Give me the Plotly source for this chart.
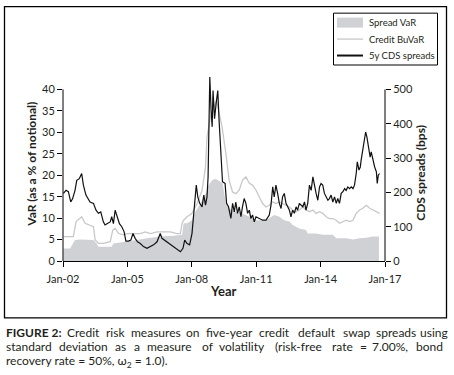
import pandas as pd
import plotly.graph_objects as go

# ---- data (decimal years) ----
cds_year = [2002.02, 2002.14, 2002.25, 2002.36, 2002.45, 2002.56, 2002.64, 2002.76, 2002.87, 2002.95,
            2003.07, 2003.18, 2003.26, 2003.42, 2003.54, 2003.65, 2003.76, 2003.88, 2003.96, 2004.07,
            2004.20, 2004.27, 2004.35, 2004.43, 2004.54, 2004.63, 2004.74, 2004.85, 2004.93, 2005.05,
            2005.16, 2005.26, 2005.36, 2005.47, 2005.60, 2005.75, 2005.91, 2006.07, 2006.22, 2006.38,
            2006.53, 2006.61, 2006.72, 2006.84, 2007.00, 2007.16, 2007.31, 2007.47, 2007.59, 2007.67,
            2007.78, 2007.90, 2008.01, 2008.12, 2008.21, 2008.28, 2008.37, 2008.48, 2008.56, 2008.64,
            2008.71, 2008.76, 2008.84, 2008.90, 2008.95, 2008.99, 2009.06, 2009.13, 2009.21, 2009.27,
            2009.34, 2009.43, 2009.55, 2009.62, 2009.71, 2009.82, 2009.90, 2009.98, 2010.05, 2010.13,
            2010.21, 2010.29, 2010.36, 2010.44, 2010.52, 2010.60, 2010.68, 2010.75, 2010.83, 2010.91,
            2010.99, 2011.14, 2011.30, 2011.46, 2011.61, 2011.69, 2011.77, 2011.84, 2011.92, 2012.00,
            2012.08, 2012.16, 2012.23, 2012.31, 2012.39, 2012.47, 2012.55, 2012.62, 2012.70, 2012.78,
            2012.86, 2012.93, 2013.01, 2013.17, 2013.25, 2013.32, 2013.40, 2013.48, 2013.56, 2013.64,
            2013.71, 2013.79, 2013.87, 2013.95, 2014.02, 2014.10, 2014.18, 2014.26, 2014.34, 2014.41,
            2014.49, 2014.57, 2014.65, 2014.73, 2014.80, 2014.88, 2014.96, 2015.04, 2015.12, 2015.19,
            2015.27, 2015.35, 2015.43, 2015.51, 2015.58, 2015.66, 2015.71, 2015.79, 2015.85, 2015.89,
            2015.97, 2016.05, 2016.10, 2016.16, 2016.24, 2016.31, 2016.36, 2016.44, 2016.52, 2016.60,
            2016.64, 2016.69, 2016.75]
cds_bps = [197, 206, 202, 172, 182, 206, 235, 240, 255, 221,
           192, 182, 172, 168, 148, 139, 143, 114, 105, 109,
           114, 129, 109, 148, 129, 109, 100, 85, 58, 58,
           61, 80, 66, 56, 51, 42, 37, 42, 47, 56,
           80, 66, 61, 56, 47, 42, 34, 27, 37, 61,
           51, 47, 80, 168, 221, 187, 168, 158, 192, 163,
           187, 245, 536, 439, 391, 497, 415, 458, 497, 410,
           332, 231, 226, 168, 158, 124, 168, 143, 172, 139,
           158, 129, 158, 182, 168, 139, 148, 124, 134, 114,
           129, 124, 119, 119, 134, 163, 216, 187, 221, 197,
           168, 153, 187, 197, 168, 158, 148, 129, 148, 139,
           158, 148, 168, 158, 172, 148, 168, 221, 206, 245,
           216, 197, 177, 216, 226, 221, 197, 187, 177, 182,
           192, 172, 187, 168, 182, 168, 197, 202, 211, 206,
           216, 211, 216, 211, 221, 255, 289, 265, 274, 294,
           328, 361, 376, 361, 332, 303, 318, 294, 274, 260,
           226, 250, 255]

buvar_year = [2002.02, 2002.48, 2002.61, 2002.76, 2002.87, 2003.03, 2003.26, 2003.42, 2003.50, 2003.65,
              2003.88, 2004.20, 2004.32, 2004.43, 2004.59, 2004.82, 2004.98, 2005.29, 2005.60, 2005.83,
              2006.07, 2006.38, 2006.69, 2007.00, 2007.31, 2007.47, 2007.55, 2007.62, 2007.78, 2008.01,
              2008.25, 2008.48, 2008.64, 2008.71, 2008.87, 2009.02, 2009.15, 2009.31, 2009.41, 2009.59,
              2009.74, 2009.90, 2010.05, 2010.21, 2010.36, 2010.52, 2010.68, 2010.83, 2010.99, 2011.14,
              2011.30, 2011.46, 2011.61, 2011.77, 2011.92, 2012.08, 2012.23, 2012.39, 2012.55, 2012.70,
              2012.86, 2013.01, 2013.17, 2013.32, 2013.48, 2013.64, 2013.79, 2013.95, 2014.10, 2014.26,
              2014.41, 2014.57, 2014.73, 2014.88, 2015.04, 2015.19, 2015.35, 2015.51, 2015.66, 2015.82,
              2015.97, 2016.13, 2016.29, 2016.44, 2016.60, 2016.75]
buvar_pct = [5.7, 5.7, 9.2, 9.9, 10.3, 8.8, 8.4, 8.0, 4.9, 4.1,
             4.1, 4.5, 7.2, 7.6, 6.4, 6.1, 6.4, 6.4, 6.4, 6.8,
             6.4, 6.8, 6.8, 6.8, 6.4, 6.4, 8.8, 9.5, 10.3, 11.1,
             13.4, 16.5, 21.9, 28.9, 33.6, 35.9, 37.4, 33.6, 31.2, 25.0,
             18.8, 16.1, 15.7, 16.5, 18.8, 19.6, 18.1, 17.7, 16.5, 15.0,
             13.4, 12.6, 13.0, 13.8, 13.4, 13.8, 13.4, 13.0, 12.6, 11.9,
             11.5, 11.9, 12.6, 11.9, 11.5, 11.9, 11.1, 11.5, 11.1, 10.3,
             9.9, 9.9, 9.5, 8.8, 9.2, 9.5, 9.2, 9.5, 11.1, 11.9,
             12.3, 13.0, 12.3, 11.9, 11.5, 11.1]

spread_year = [2002.02, 2002.33, 2002.56, 2002.79, 2003.42, 2003.57, 2003.65, 2004.27, 2004.35, 2004.98,
               2005.44, 2005.91, 2006.53, 2007.16, 2007.55, 2007.62, 2007.78, 2008.01, 2008.17, 2008.40,
               2008.64, 2008.79, 2008.95, 2009.10, 2009.26, 2009.43, 2009.59, 2009.74, 2010.05, 2010.36,
               2010.68, 2010.99, 2011.46, 2011.69, 2011.84, 2012.08, 2012.31, 2012.55, 2012.70, 2013.01,
               2013.32, 2013.40, 2013.79, 2014.10, 2014.57, 2014.73, 2015.19, 2015.51, 2015.82, 2016.13,
               2016.44, 2016.72]
spread_pct = [2.9, 2.9, 4.9, 5.0, 4.9, 4.1, 3.3, 3.3, 4.1, 4.5,
              4.9, 5.3, 5.7, 5.9, 6.1, 8.8, 8.8, 9.5, 11.5, 13.4,
              15.7, 17.7, 18.8, 19.2, 18.8, 18.2, 13.4, 12.3, 11.5, 11.1,
              10.3, 9.5, 9.5, 10.3, 10.7, 10.3, 9.5, 9.2, 8.4, 7.6,
              7.2, 6.4, 6.4, 6.1, 6.1, 5.3, 5.3, 5.0, 5.3, 5.4,
              5.7, 5.7]

series_names = ["Spread VaR", "Credit BuVaR", "5y CDS spreads"]
x_ticks = ["Jan-02", "Jan-05", "Jan-08", "Jan-11", "Jan-14", "Jan-17"]
y_ticks = [0, 5, 10, 15, 20, 25, 30, 35, 40]
y2_ticks = [0, 100, 200, 300, 400, 500]


def to_date(years):
    s = pd.Series(years)
    base = pd.to_datetime(s.astype(int).astype(str) + "-01-01")
    return base + pd.to_timedelta((s - s.astype(int)) * 365.25, unit="D")


tick_dates = [pd.Timestamp(2000 + int(t[-2:]), 1, 1) for t in x_ticks]

# page geometry (pixels)
W, H = 454, 375
L, R, T, B = 63, 385, 67.5, 261


def px(x):
    return (x - L) / (R - L)


def py(y):
    return (B - y) / (B - T)


FONT = "Lato, Carlito, 'Open Sans', sans-serif"
INK = "#231f20"
AREA = "#d0d1d5"
BUVAR = "#c8c8c8"
CDS = "#111111"

fig = go.Figure()
fig.add_trace(go.Scatter(x=to_date(spread_year), y=spread_pct, name=series_names[0],
                         mode="lines", line=dict(width=0, color=AREA),
                         fill="tozeroy", fillcolor=AREA))
fig.add_trace(go.Scatter(x=to_date(buvar_year), y=buvar_pct, name=series_names[1],
                         mode="lines", line=dict(width=1.3, color=BUVAR)))
fig.add_trace(go.Scatter(x=to_date(cds_year), y=cds_bps, name=series_names[2],
                         mode="lines", line=dict(width=1.2, color=CDS), yaxis="y2"))

fig.update_layout(
    width=W, height=H,
    margin=dict(l=L, r=W - R, t=T, b=H - B),
    paper_bgcolor="white", plot_bgcolor="white",
    font=dict(family=FONT, size=11, color=INK),
    showlegend=False,
    xaxis=dict(range=[tick_dates[0], tick_dates[-1]], tickvals=tick_dates, ticktext=x_ticks,
               showgrid=False, zeroline=False, showline=True, linecolor="black", linewidth=1,
               ticks="outside", ticklen=5, tickcolor="black", ticklabelstandoff=3),
    yaxis=dict(range=[0, 45], tickvals=y_ticks, showgrid=False, zeroline=False,
               showline=False, ticks="outside", ticklen=5, tickcolor="black"),
    yaxis2=dict(range=[0, 562.5], tickvals=y2_ticks, overlaying="y", side="right",
                showgrid=False, zeroline=False, showline=False,
                ticks="outside", ticklen=5, tickcolor="black"),
)

# axis lines that stop at the last tick, outer frame
fig.add_shape(type="line", xref="paper", yref="y", x0=0, x1=0, y0=0, y1=40,
              line=dict(color="black", width=1))
fig.add_shape(type="line", xref="paper", yref="y2", x0=1, x1=1, y0=0, y1=500,
              line=dict(color="black", width=1))
fig.add_shape(type="rect", xref="paper", yref="paper", x0=px(4.5), x1=px(446.5),
              y0=py(318), y1=py(6), line=dict(color="black", width=1.3))

# legend box drawn by hand to match its compact spacing
fig.add_shape(type="rect", xref="paper", yref="paper", x0=px(333.5), x1=px(437.5),
              y0=py(64.5), y1=py(12.5), line=dict(color="black", width=1), fillcolor="white")
fig.add_shape(type="rect", xref="paper", yref="paper", x0=px(337), x1=px(363),
              y0=py(27), y1=py(17), line=dict(width=0), fillcolor=AREA)
fig.add_shape(type="line", xref="paper", yref="paper", x0=px(337), x1=px(363),
              y0=py(38.5), y1=py(38.5), line=dict(color=BUVAR, width=1.3))
fig.add_shape(type="line", xref="paper", yref="paper", x0=px(337), x1=px(363),
              y0=py(55), y1=py(55), line=dict(color=CDS, width=2))
for name, yy in zip(series_names, [22, 38.5, 55]):
    fig.add_annotation(text=name, xref="paper", yref="paper", x=px(367), y=py(yy),
                       xanchor="left", yanchor="middle", showarrow=False,
                       font=dict(size=9.5, color=INK))

# axis titles
fig.add_annotation(text="<b>VaR (as a % of notional)</b>", textangle=-90, xref="paper", yref="paper",
                   x=px(22), y=py(164), showarrow=False, font=dict(size=12))
fig.add_annotation(text="<b>CDS spreads (bps)</b>", textangle=-90, xref="paper", yref="paper",
                   x=px(430), y=py(173), showarrow=False, font=dict(size=12))
fig.add_annotation(text="<b>Year</b>", xref="paper", yref="paper",
                   x=px(223), y=py(301), showarrow=False, font=dict(size=13))

# caption, justified lines placed word by word
line1 = [("<b>FIGURE 2:</b>", 5), ("Credit", 66), ("risk", 105), ("measures", 130), ("on", 185),
         ("five-year", 205), ("credit", 258), ("default", 297), ("swap", 342), ("spreads", 375),
         ("using", 419)]
line2 = [("standard", 5), ("deviation", 58), ("as", 114), ("a", 133), ("measure", 146), ("of", 201),
         ("volatility", 218), ("(risk-free", 274), ("rate", 331), ("=", 359), ("7.00%,", 371),
         ("bond", 415)]
for words, yy in [(line1, 333), (line2, 347)]:
    for w, xx in words:
        fig.add_annotation(text=w, xref="paper", yref="paper", x=px(xx), y=py(yy),
                           xanchor="left", yanchor="middle", showarrow=False, borderpad=0,
                           font=dict(size=12, color=INK))
fig.add_annotation(text="recovery rate = 50%, ω<sub>2</sub> = 1.0).", xref="paper", yref="paper",
                   x=px(5), y=py(362), xanchor="left", yanchor="middle", showarrow=False,
                   borderpad=0, font=dict(size=12, color=INK))

# drop the browser's default page margin so the figure sits at the window's corner
fig.write_html("out.html", config={"displayModeBar": False},
               post_script="document.body.style.margin='0px';")
